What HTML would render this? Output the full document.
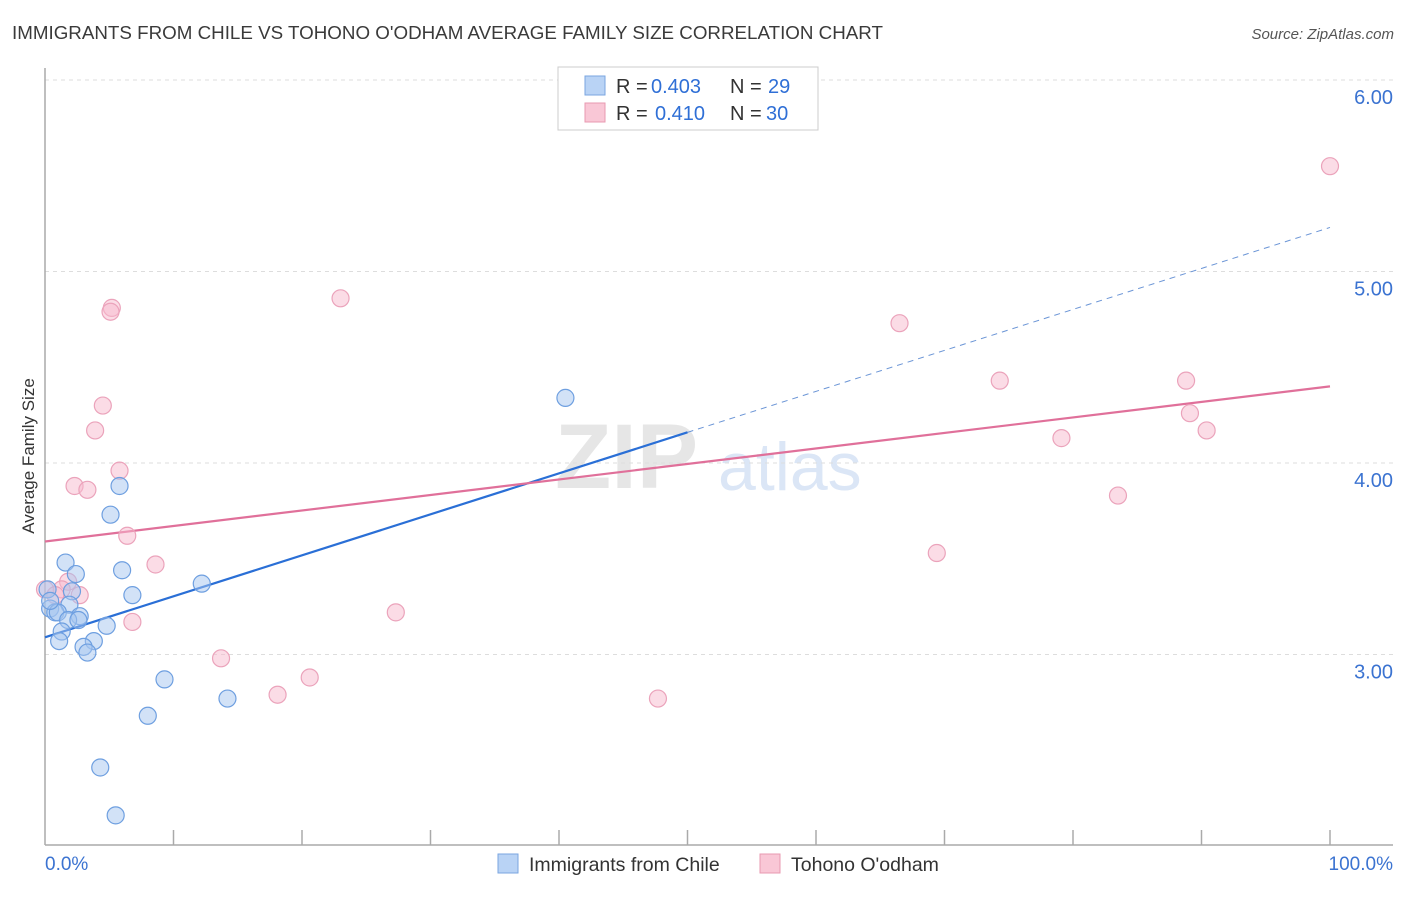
<!DOCTYPE html>
<html><head><meta charset="utf-8"><style>
body{margin:0;background:#fff;font-family:"Liberation Sans",sans-serif;}
svg text{font-family:"Liberation Sans",sans-serif;}
</style></head><body>
<svg id="chart" width="1406" height="892" xmlns="http://www.w3.org/2000/svg">
<text x="12" y="39" font-size="18" fill="#3a3a3a" textLength="871" lengthAdjust="spacingAndGlyphs">IMMIGRANTS FROM CHILE VS TOHONO O'ODHAM AVERAGE FAMILY SIZE CORRELATION CHART</text>
<text x="1394" y="39" font-size="15" fill="#555" font-style="italic" text-anchor="end">Source: ZipAtlas.com</text>
<g>
<text x="555" y="488" font-size="92" font-family="Liberation Serif" fill="#e6e6e6" font-weight="bold">ZIP</text>
<text x="718" y="490" font-size="68" fill="#dbe6f6">atlas</text>
</g>
<g id="grid"></g>
<g id="axes"></g>
<g id="lines"></g>
<g id="pts"></g>
<text transform="translate(34,456) rotate(-90)" font-size="17" fill="#333" text-anchor="middle">Average Family Size</text>
<g>
<rect x="558" y="67" width="260" height="63" fill="#fff" stroke="#ccc"/>
<rect x="585" y="76" width="20" height="19" fill="#b9d3f5" stroke="#7aa6e0"/>
<rect x="585" y="103" width="20" height="19" fill="#f9c7d6" stroke="#e89ab0"/>
<text x="616" y="93" font-size="20" fill="#333">R =</text>
<text x="651" y="93" font-size="20" fill="#2f6fd6">0.403</text>
<text x="730" y="93" font-size="20" fill="#333">N =</text>
<text x="768" y="93" font-size="20" fill="#2f6fd6">29</text>
<text x="616" y="120" font-size="20" fill="#333">R =</text>
<text x="655" y="120" font-size="20" fill="#2f6fd6">0.410</text>
<text x="730" y="120" font-size="20" fill="#333">N =</text>
<text x="766" y="120" font-size="20" fill="#2f6fd6">30</text>
</g>
<g>
<rect x="498" y="854" width="20" height="19" fill="#b9d3f5" stroke="#7aa6e0"/>
<text x="529" y="871" font-size="19.5" fill="#333">Immigrants from Chile</text>
<rect x="760" y="854" width="20" height="19" fill="#f9c7d6" stroke="#e89ab0"/>
<text x="791" y="871" font-size="19.5" fill="#333">Tohono O'odham</text>
</g>
</svg>
<script>
const yTicks=[3,4,5,6];
const yTickLabels=["3.00","4.00","5.00","6.00"];
const xTickLabels=["0.0%","100.0%"];
const blueX=[40.5,5.8,5.1,1.6,6.0,2.4,12.2,6.8,2.1,1.9,0.4,0.8,1.0,2.7,1.8,4.8,1.3,3.8,1.1,3.0,3.3,9.3,14.2,8.0,4.3,5.5,0.2,0.4,2.6];
const blueY=[4.34,3.88,3.73,3.48,3.44,3.42,3.37,3.31,3.33,3.26,3.24,3.22,3.22,3.20,3.18,3.15,3.12,3.07,3.07,3.04,3.01,2.87,2.77,2.68,2.41,2.16,3.34,3.28,3.18];
const pinkX=[100,5.2,5.1,23.0,66.5,4.5,74.3,88.8,3.9,89.1,90.4,79.1,5.8,2.3,3.3,83.5,6.4,69.4,8.6,1.8,1.3,0,2.7,0.8,6.8,27.3,13.7,20.6,18.1,47.7];
const pinkY=[5.55,4.81,4.79,4.86,4.73,4.30,4.43,4.43,4.17,4.26,4.17,4.13,3.96,3.88,3.86,3.83,3.62,3.53,3.47,3.38,3.34,3.34,3.31,3.31,3.17,3.22,2.98,2.88,2.79,2.77];
const blueTrend=[3.09,5.23];
const pinkTrend=[3.59,4.40];
const NS="http://www.w3.org/2000/svg";
const X=p=>45+p*12.85;
const Y=v=>80+(6-v)*191.5;
function mk(tag,attrs,parent){const e=document.createElementNS(NS,tag);for(const k in attrs)e.setAttribute(k,attrs[k]);document.getElementById(parent).appendChild(e);return e;}
yTicks.forEach((t,i)=>{
 const l=mk('line',{x1:45,x2:1393,y1:Y(t),y2:Y(t),stroke:'#ddd','stroke-dasharray':'4,4'},'grid');
 
 
 const tx=mk('text',{x:1393,y:Y(t)+24,'font-size':20,fill:'#3b73d1','text-anchor':'end'},'grid');
 tx.textContent=yTickLabels[i];
 
 
});
let a=mk('line',{x1:45,x2:45,y1:68,y2:845,stroke:'#aaa','stroke-width':1.5},'axes');


a=mk('line',{x1:45,x2:1393,y1:845,y2:845,stroke:'#aaa','stroke-width':1.5},'axes');


for(let i=1;i<=10;i++){const t=mk('line',{x1:X(i*10),x2:X(i*10),y1:830,y2:845,stroke:'#aaa','stroke-width':1.5},'axes');
 
 }
[[0,'start'],[100,'end']].forEach((d,i)=>{const t=mk('text',{x:i?1393:45,y:870,'font-size':19,fill:'#3b73d1','text-anchor':d[1]},'axes');t.textContent=xTickLabels[i];
 
 });
const bm=blueTrend[0]+(blueTrend[1]-blueTrend[0])*0.5;
let ln=mk('line',{x1:X(0),y1:Y(blueTrend[0]),x2:X(50),y2:Y(bm),stroke:'#2a6fd6','stroke-width':2.2},'lines');


ln=mk('line',{x1:X(50),y1:Y(bm),x2:X(100),y2:Y(blueTrend[1]),stroke:'#6b95d6','stroke-width':1,'stroke-dasharray':'6,5'},'lines');


ln=mk('line',{x1:X(0),y1:Y(pinkTrend[0]),x2:X(100),y2:Y(pinkTrend[1]),stroke:'#e0709a','stroke-width':2.2},'lines');


pinkX.forEach((x,i)=>{const c=mk('circle',{cx:X(x),cy:Y(pinkY[i]),r:8.5,fill:'rgba(248,185,205,0.5)',stroke:'#eba3bb','stroke-width':1.2},'pts');
 
 });
blueX.forEach((x,i)=>{const c=mk('circle',{cx:X(x),cy:Y(blueY[i]),r:8.5,fill:'rgba(165,198,240,0.5)',stroke:'#6e9fe0','stroke-width':1.2},'pts');
 
 });
</script>
</body></html>
